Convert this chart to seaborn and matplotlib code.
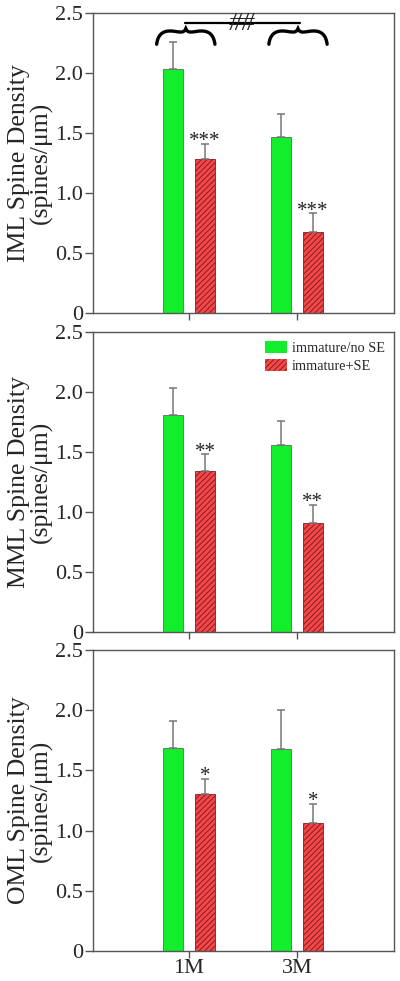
import matplotlib
matplotlib.use("Agg")
import matplotlib.pyplot as plt
from matplotlib.path import Path
from matplotlib.patches import PathPatch, Patch
import numpy as np
import pandas as pd
import seaborn as sns

# ---- data ----
ages = ["1M", "3M"]
groups = ["immature/no SE", "immature+SE"]
layers = ["IML", "MML", "OML"]

iml_noSE = [2.03, 1.465]
iml_SE = [1.28, 0.675]
iml_noSE_err = [0.23, 0.195]
iml_SE_err = [0.13, 0.155]

mml_noSE = [1.81, 1.56]
mml_SE = [1.345, 0.905]
mml_noSE_err = [0.22, 0.20]
mml_SE_err = [0.135, 0.155]

oml_noSE = [1.69, 1.68]
oml_SE = [1.30, 1.06]
oml_noSE_err = [0.22, 0.32]
oml_SE_err = [0.13, 0.16]

stars = {"IML": ["***", "***"], "MML": ["**", "**"], "OML": ["*", "*"]}
yticks = [0, 0.5, 1.0, 1.5, 2.0, 2.5]
ytick_labels = ["0", "0.5", "1.0", "1.5", "2.0", "2.5"]

panel_data = {
    "IML": (iml_noSE, iml_SE, iml_noSE_err, iml_SE_err),
    "MML": (mml_noSE, mml_SE, mml_noSE_err, mml_SE_err),
    "OML": (oml_noSE, oml_SE, oml_noSE_err, oml_SE_err),
}

GREEN = "#12ee2c"
RED = "#f2474b"
HATCH_C = "#8c1c1c"
AX_C = "#555555"

sns.set_style("ticks")
plt.rcParams["font.family"] = ["Liberation Serif", "DejaVu Serif"]
plt.rcParams["hatch.linewidth"] = 0.7
plt.rcParams["hatch.color"] = HATCH_C

fig = plt.figure(figsize=(4.0, 9.81), dpi=100)
positions = [
    [0.2325, 0.681, 0.7525, 0.3057],
    [0.2325, 0.3558, 0.7525, 0.3058],
    [0.2325, 0.0306, 0.7525, 0.3068],
]


def brace(ax, x0, x1, y0, h, lw=2.4):
    w = x1 - x0
    def P(u, v):
        return (x0 + u * w, y0 + v * h)
    verts = [P(0, 0), P(0.02, 0.6), P(0.1, 0.85), P(0.23, 0.85),
             P(0.36, 0.85), P(0.46, 0.62), P(0.5, 1.0),
             P(0.54, 0.62), P(0.64, 0.85), P(0.77, 0.85),
             P(0.9, 0.85), P(0.98, 0.6), P(1, 0)]
    codes = [Path.MOVETO] + [Path.CURVE4] * 12
    ax.add_patch(PathPatch(Path(verts, codes), facecolor="none",
                           edgecolor="black", lw=lw, capstyle="round"))


for i, layer in enumerate(layers):
    ax = fig.add_axes(positions[i])
    noSE, SE, noSE_err, SE_err = panel_data[layer]
    df = pd.DataFrame({
        "age": ages * 2,
        "group": [groups[0]] * 2 + [groups[1]] * 2,
        "value": list(noSE) + list(SE),
        "err": list(noSE_err) + list(SE_err),
    })
    sns.barplot(data=df, x="age", y="value", hue="group", order=ages,
                hue_order=groups, palette=[GREEN, RED], width=0.593,
                gap=0.375, errorbar=None, legend=False, ax=ax,
                saturation=1, edgecolor="#666666", linewidth=0.6)
    bar_containers = list(ax.containers)
    for gi, cont in enumerate(bar_containers):
        gname = groups[gi]
        sub = df[df["group"] == gname]
        xs = [b.get_x() + b.get_width() / 2 for b in cont]
        for b in cont:
            if gi == 1:
                b.set_hatch("//////")
                b.set_edgecolor(HATCH_C)
        ax.errorbar(xs, sub["value"].values,
                    yerr=[np.zeros(len(xs)), sub["err"].values],
                    fmt="none", ecolor="#777777", elinewidth=1.1,
                    capsize=3, capthick=1.1, zorder=3)
        if gi == 1:
            for x, v, e, s in zip(xs, sub["value"].values, sub["err"].values, stars[layer]):
                ax.text(x, v + e - 0.06, s, ha="center", va="bottom",
                        fontsize=15, color="#222222")
    ax.set_xlim(-0.89, 1.9)
    ax.set_ylim(0, 2.5)
    ax.set_yticks(yticks)
    ax.set_yticklabels(ytick_labels)
    ax.set_xticks([0, 1])
    if i == 2:
        ax.set_xticklabels(ages)
    else:
        ax.set_xticklabels([])
    ax.set_xlabel("")
    ax.set_ylabel(f"{layer} Spine Density\n(spines/\u03bcm)", fontsize=18.5,
                  linespacing=0.95, labelpad=2)
    ax.tick_params(axis="y", labelsize=16, length=6, width=1, color=AX_C, pad=1)
    ax.tick_params(axis="x", labelsize=16, length=5, width=1, color=AX_C, pad=0.5)
    for sp in ax.spines.values():
        sp.set_visible(True)
        sp.set_color(AX_C)
        sp.set_linewidth(1.0)

    if layer == "IML":
        brace(ax, -0.3, 0.24, 2.24, 0.13)
        brace(ax, 0.74, 1.28, 2.24, 0.13)
        ax.plot([-0.04, 1.03], [2.415, 2.415], color="black", lw=1.6)
        ax.text(0.49, 2.41, "##", ha="center", va="center", fontsize=19,
                color="#222222", style="italic")
    if layer == "MML":
        handles = [Patch(facecolor=GREEN, edgecolor="none"),
                   Patch(facecolor=RED, edgecolor=HATCH_C, hatch="//////", lw=0)]
        ax.legend(handles, groups, loc="upper right", frameon=False,
                  fontsize=10.3, handlelength=1.55, handleheight=0.85,
                  handletextpad=0.35, labelspacing=0.3,
                  bbox_to_anchor=(1.0, 1.0), borderaxespad=0.25)

fig.savefig("out.png", dpi=100)
